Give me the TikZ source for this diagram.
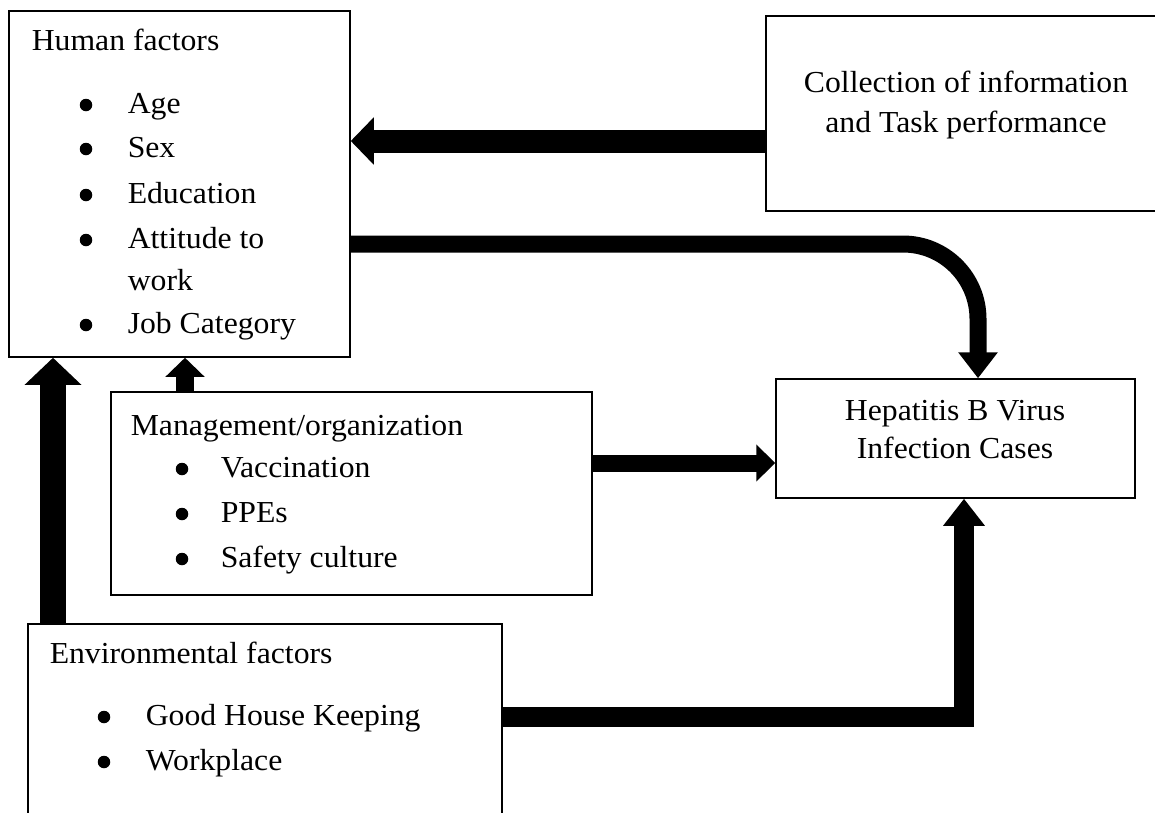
\documentclass[tikz,border=0pt]{standalone}
\usepackage{fontspec}
\setmainfont{Liberation Serif}[FakeStretch=1.04]
\usetikzlibrary{arrows.meta,positioning}

\begin{document}
\begin{tikzpicture}[x=1pt, y=-1pt, line width=1.5pt]
\tikzstyle{every node} = [font=\fontsize{30.5}{36}\selectfont, inner sep=0pt]
\tikzstyle{box} = [draw, rectangle]
\tikzstyle{txt} = [anchor=base west]
\tikzstyle{mid} = [anchor=base]
\tikzstyle{dot} = [circle, fill, minimum size=12.5pt]
\clip (0,0) rectangle (1155,812);
\fill[white] (0,0) rectangle (1155,812);
\node[box, minimum width=341pt, minimum height=346pt] (human) at (179.5,184) {};
\node[box, minimum width=400pt, minimum height=195pt] (collect) at (966,113.5) {};
\node[box, minimum width=359pt, minimum height=119pt] (hep) at (955.5,438.5) {};
\node[box, minimum width=481pt, minimum height=203pt] (mgmt) at (351.5,493.5) {};
\node[box, minimum width=474pt, minimum height=216pt] (env) at (265,732) {};
\node[txt] (htitle) at (31,50) {Human factors};
\foreach \n/\y/\t in {1/113/Age, 2/157/Sex, 3/203/Education, 4/248/Attitude to, 5/333/Job Category}
{
	\node[dot] (hb\n) at (86,\y-8) {};
	\node[txt] (hi\n) at (127,\y) {\t};
}
\node[txt] (hi4b) at (127,290) {work};
\node[mid] (ctext1) at (966,92) {Collection of information};
\node[mid] (ctext2) at (966,132) {and Task performance};
\node[mid] (htext1) at (955,420) {Hepatitis B Virus};
\node[mid] (htext2) at (955,458) {Infection Cases};
\node[txt] (mtitle) at (130,435) {Management/organization};
\foreach \n/\y/\t in {1/477/Vaccination, 2/522/PPEs, 3/567/Safety culture}
{
	\node[dot] (mb\n) at (182,\y-8) {};
	\node[txt] (mi\n) at (220,\y) {\t};
}
\node[txt] (etitle) at (49,663) {Environmental factors};
\foreach \n/\y/\t in {1/725/Good House Keeping, 2/770/Workplace}
{
	\node[dot] (eb\n) at (104,\y-8) {};
	\node[txt] (ei\n) at (145,\y) {\t};
}
\draw[line width=23pt, -{Triangle[width=46pt,length=23pt]}] ([yshift=-27.5pt]collect.west) -- ([yshift=-27.5pt]collect.west -| human.east);
\draw[line width=17pt, rounded corners=75pt, -{Triangle[width=38pt,length=26pt]}] ([yshift=-60pt]human.east) -| ([xshift=22.5pt]hep.north);
\draw[line width=17pt, -{Triangle[width=36pt,length=19pt]}] ([yshift=30.5pt]mgmt.east) -- ([yshift=30.5pt]mgmt.east -| hep.west);
\draw[line width=20pt, -{Triangle[width=40pt,length=27pt]}] ([yshift=15pt]env.east) -| ([xshift=8.5pt]hep.south);
\draw[line width=26pt, -{Triangle[width=55pt,length=27pt]}] ([xshift=-212pt]env.north) -- ([xshift=-212pt]env.north |- human.south);
\draw[line width=18pt, -{Triangle[width=38pt,length=19pt]}] ([xshift=-166.5pt]mgmt.north) -- ([xshift=-166.5pt]mgmt.north |- human.south);
\end{tikzpicture}
\end{document}
